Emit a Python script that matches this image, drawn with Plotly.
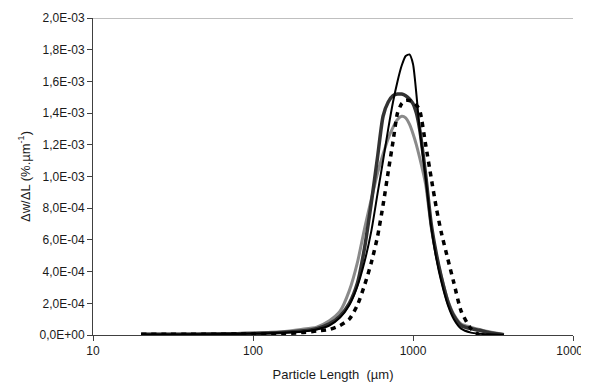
import plotly.graph_objects as go

# Particle length (µm)
length_um = [20, 30, 40, 50, 60, 80, 100, 125, 150, 200, 250, 300, 350, 400, 450, 500,
             550, 600, 650, 700, 750, 800, 850, 900, 950, 1000, 1050, 1100, 1200, 1300,
             1400, 1500, 1650, 1800, 2000, 2300, 2600, 3000, 3700]

# dw/dL values in units of 1e-3 %.µm^-1
gray_vals = [0.005, 0.005, 0.006, 0.007, 0.008, 0.010, 0.012, 0.016, 0.020, 0.035, 0.05, 0.09,
             0.15, 0.28, 0.46, 0.68, 0.86, 1.02, 1.14, 1.24, 1.31, 1.36, 1.38, 1.37, 1.33,
             1.27, 1.20, 1.12, 0.95, 0.68, 0.50, 0.37, 0.22, 0.13, 0.07, 0.05, 0.035, 0.02, 0.003]
dark_vals = [0.004, 0.004, 0.005, 0.006, 0.007, 0.008, 0.010, 0.013, 0.016, 0.025, 0.04, 0.07,
             0.12, 0.20, 0.33, 0.56, 0.84, 1.12, 1.38, 1.47, 1.51, 1.52, 1.52, 1.51, 1.49,
             1.46, 1.40, 1.30, 1.01, 0.70, 0.51, 0.37, 0.21, 0.12, 0.06, 0.04, 0.03, 0.015, 0.002]
thin_vals = [0.003, 0.003, 0.004, 0.005, 0.006, 0.007, 0.009, 0.011, 0.014, 0.02, 0.035, 0.06,
             0.11, 0.19, 0.31, 0.47, 0.66, 0.89, 1.10, 1.30, 1.47, 1.60, 1.70, 1.76, 1.77,
             1.71, 1.52, 1.30, 0.99, 0.68, 0.48, 0.34, 0.19, 0.10, 0.04, 0.015, 0.008, 0.004, 0.0]
dashed_vals = [0.005, 0.005, 0.005, 0.005, 0.005, 0.006, 0.006, 0.007, 0.008, 0.015, 0.025, 0.035,
               0.06, 0.10, 0.19, 0.32, 0.46, 0.62, 0.82, 1.03, 1.22, 1.40, 1.46, 1.48, 1.48,
               1.47, 1.45, 1.42, 1.20, 0.99, 0.80, 0.65, 0.48, 0.33, 0.15, 0.04, 0.0, None, None]

y_tick_vals = [0, 2e-4, 4e-4, 6e-4, 8e-4, 1e-3, 1.2e-3, 1.4e-3, 1.6e-3, 1.8e-3, 2e-3]
y_tick_text = ["0,0E+00", "2,0E-04", "4,0E-04", "6,0E-04", "8,0E-04", "1,0E-03",
               "1,2E-03", "1,4E-03", "1,6E-03", "1,8E-03", "2,0E-03"]
x_tick_vals = [10, 100, 1000, 10000]
x_tick_text = ["10", "100", "1000", "10000"]


def scale(v):
    return [None if a is None else a * 1e-3 for a in v]


fig = go.Figure()
fig.add_trace(go.Scatter(x=length_um, y=scale(gray_vals), mode="lines",
                         line=dict(color="#8a8a8a", width=3, shape="spline", smoothing=0.6)))
fig.add_trace(go.Scatter(x=length_um, y=scale(dark_vals), mode="lines",
                         line=dict(color="#333333", width=3.5, shape="spline", smoothing=0.6)))
fig.add_trace(go.Scatter(x=length_um, y=scale(thin_vals), mode="lines",
                         line=dict(color="#000000", width=2, shape="spline", smoothing=0.6)))
fig.add_trace(go.Scatter(x=length_um, y=scale(dashed_vals), mode="lines",
                         line=dict(color="#000000", width=3.5, dash="5px,5px",
                                   shape="spline", smoothing=0.6)))

font = dict(family="Liberation Sans, Arial, sans-serif", size=12, color="#1a1a1a")

# page body has an 8px default margin, so the figure is sized to fit the window
fig.update_layout(
    width=581, height=375,
    margin=dict(l=85, r=16, t=10, b=48),
    paper_bgcolor="white", plot_bgcolor="white",
    showlegend=False,
    font=font,
    xaxis=dict(type="log", range=[1, 4], tickvals=x_tick_vals, ticktext=x_tick_text,
               automargin=False, ticklabeloverflow="allow",
               showgrid=False, zeroline=False, showline=True, linecolor="#404040", linewidth=1,
               ticks="outside", ticklen=5, tickcolor="#404040",
               title=dict(text="Particle Length  (µm)", font=dict(size=13), standoff=12)),
    yaxis=dict(range=[0, 2e-3], tickvals=y_tick_vals, ticktext=y_tick_text,
               automargin=False,
               showgrid=False, zeroline=False, showline=True, linecolor="#404040", linewidth=1,
               ticks="outside", ticklen=5, tickcolor="#404040",
               title=dict(text="Δw/ΔL (%.µm<sup>-1</sup>)", font=dict(size=13), standoff=6)),
    shapes=[dict(type="line", xref="paper", yref="y", x0=0, x1=1, y0=2e-3, y1=2e-3,
                 line=dict(color="#808080", width=1))],
)

fig.write_html("out.html")
